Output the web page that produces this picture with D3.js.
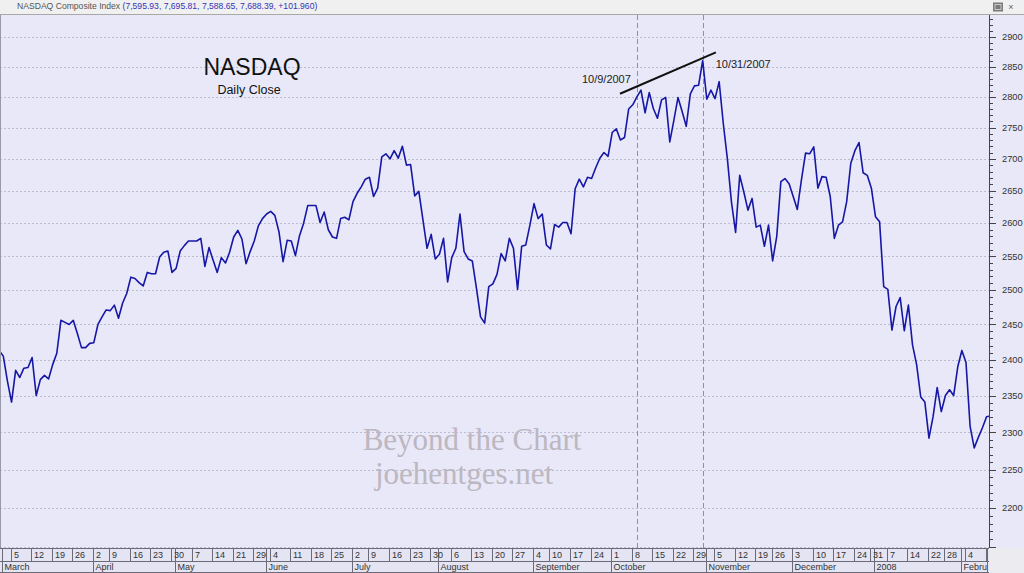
<!DOCTYPE html>
<html><head><meta charset="utf-8">
<script src="https://cdn.jsdelivr.net/npm/d3@7/dist/d3.min.js"></script>
<style>body{margin:0;background:#fff}svg{display:block}</style>
</head><body>
<svg id="c" width="1024" height="573"></svg>
<script>
// ---- data ----
const startDate = "2007-02-28";
const holidays = ["2007-04-06","2007-05-28","2007-07-04","2007-09-03","2007-11-22","2007-12-25","2008-01-01","2008-01-21"];
const closes = [
2413,2405,2370,2341,
2385,2375,2388,2389,
2403,2350,2372,2378,2373,
2393,2409,2456,2453,2450,
2456,2437,2417,2417,2423,
2424,2450,2461,2471,
2470,2478,2459,2481,2495,
2519,2517,2511,2506,2526,
2524,2524,2549,2556,2558,
2526,2532,2558,2566,2573,
2573,2573,2577,2535,2563,
2544,2526,2548,2540,2556,
2579,2589,2576,2539,2557,
2573,2596,2607,2614,
2618,2612,2587,2542,2574,
2573,2551,2581,2600,2627,
2627,2627,2601,2617,2590,
2579,2577,2607,2609,2605,
2633,2646,2656,2668,
2671,2641,2654,2703,2708,
2700,2713,2701,2720,2690,
2691,2642,2649,2605,2562,
2583,2546,2553,2577,2512,
2548,2562,2614,2557,2546,
2543,2503,2461,2452,2505,
2509,2523,2554,2543,2577,
2562,2501,2565,2567,2597,
2630,2607,2614,2567,
2561,2598,2594,2601,2601,
2584,2653,2668,2656,2671,
2669,2686,2701,2710,2704,
2742,2748,2730,2734,2780,
2787,2800,2811,2774,2807,
2781,2765,2795,2799,2727,
2762,2799,2776,2752,2805,
2818,2819,2860,2796,2811,
2797,2825,2757,2700,2632,
2586,2674,2648,2620,2638,
2594,2597,2565,2597,
2543,2580,2664,2669,2661,
2641,2621,2667,2709,2708,
2719,2654,2672,2671,2641,
2577,2597,2602,2633,2693,
2713,2726,2678,2674,
2654,
2610,2602,2505,
2501,2442,2476,2489,2441,
2478,2421,2393,2348,2341,
2292,2321,2361,2328,
2350,2358,2350,2390,2413,
2396,2308,2279,2293,2306,
2321,2322
];
const yTicks = [2200,2250,2300,2350,2400,2450,2500,2550,2600,2650,2700,2750,2800,2850,2900];
const gridLevels = [2150].concat(yTicks);
const monthNames = ["January","February","March","April","May","June","July","August","September","October","November","December"];
const markedDates = ["2007-10-09","2007-10-31"];
const markedLabels = ["10/9/2007","10/31/2007"];
const trendLine = [[150.9, 2805],[174.2, 2874]];
const headerName = "NASDAQ Composite Index";
const headerValues = "(7,595.93, 7,695.81, 7,588.65, 7,688.39, +101.960)";

// ---- trading days ----
const fmt = d3.utcFormat("%Y-%m-%d");
const dates = [];
{
  let d = new Date(startDate + "T00:00:00Z");
  while (dates.length < closes.length) {
    const dow = d.getUTCDay();
    if (dow !== 0 && dow !== 6 && !holidays.includes(fmt(d))) dates.push(new Date(d));
    d = d3.utcDay.offset(d, 1);
  }
}
const data = closes.map((v, i) => ({i, date: dates[i], v}));

// ---- layout ----
const W = 1024, H = 573;
const plotL = 0, plotR = 989, plotT = 15, plotB = 548;
const row1B = 561, row2B = 573;

const x = d3.scaleLinear().domain([0, closes.length - 1]).range([-0.8, -0.8 + 4.114 * (closes.length - 1)]);
const y = d3.scaleLog().domain([2200, 2900]).range([508, 37]);

const svg = d3.select("#c");
const bg = "#e8e8f8";
svg.append("rect").attr("width", W).attr("height", H).attr("fill", bg);

// header
svg.append("rect").attr("x",0).attr("y",0).attr("width",W).attr("height",14).attr("fill","#f0f0f0");
svg.append("line").attr("x1",0).attr("x2",W).attr("y1",14.5).attr("y2",14.5).attr("stroke","#a8a8a8");
const ht = svg.append("text").attr("x",17).attr("y",9).attr("font-family","Liberation Sans, Arial, sans-serif").attr("font-size",8.6);
ht.append("tspan").attr("fill","#555").text(headerName + " ");
ht.append("tspan").attr("fill","#3434b8").text(headerValues);
svg.append("rect").attr("x",993).attr("y",2.5).attr("width",10).attr("height",9).attr("fill","#7a7a7a");
svg.append("rect").attr("x",995).attr("y",4.5).attr("width",6).attr("height",5).attr("fill","none").attr("stroke","#ddd").attr("stroke-width",0.8);
svg.append("text").attr("x",1011).attr("y",10).attr("font-size",9).attr("fill","#666").attr("text-anchor","middle").attr("font-family","Liberation Sans, Arial").text("×");

// clip
svg.append("clipPath").attr("id","pc").append("rect").attr("x",plotL).attr("y",plotT).attr("width",plotR-plotL).attr("height",plotB-plotT);
const plot = svg.append("g").attr("clip-path","url(#pc)");

// grid
plot.selectAll("line.grid").data(gridLevels).join("line").attr("class","grid")
  .attr("x1",plotL).attr("x2",plotR).attr("y1",d=>Math.round(y(d))+0.5).attr("y2",d=>Math.round(y(d))+0.5)
  .attr("stroke","#bdbdd2").attr("stroke-width",1).attr("stroke-dasharray","2,2");

// marked verticals
const markIdx = markedDates.map(s => data.findIndex(d => fmt(d.date) === s));
plot.selectAll("line.mark").data(markIdx).join("line").attr("class","mark")
  .attr("x1",d=>Math.round(x(d))+0.5).attr("x2",d=>Math.round(x(d))+0.5).attr("y1",plotT).attr("y2",plotB)
  .attr("stroke","#8e8e9e").attr("stroke-width",1).attr("stroke-dasharray","5,3");

// watermark
const wm = svg.append("g").attr("font-family","Liberation Serif, Times New Roman, serif").attr("fill","#bcb7c0").attr("text-anchor","middle");
wm.append("text").attr("x",472).attr("y",450).attr("font-size",31).text("Beyond the Chart");
wm.append("text").attr("x",464).attr("y",484).attr("font-size",31).text("joehentges.net");

// line
plot.append("path").datum(data)
  .attr("d", d3.line().x(d=>x(d.i)).y(d=>y(d.v)))
  .attr("fill","none").attr("stroke","#1717a6").attr("stroke-width",1.6).attr("stroke-linejoin","round");

// trend line
plot.append("line").attr("x1",x(trendLine[0][0])).attr("y1",y(trendLine[0][1]))
  .attr("x2",x(trendLine[1][0])).attr("y2",y(trendLine[1][1]))
  .attr("stroke","#111").attr("stroke-width",2);

// annotations
const af = "Liberation Sans, Arial, sans-serif";
svg.append("text").attr("x",x(markIdx[0])-6).attr("y",y(closes[markIdx[0]])-14)
  .attr("text-anchor","end").attr("font-family",af).attr("font-size",11).attr("fill","#222").text(markedLabels[0]);
svg.append("text").attr("x",x(markIdx[1])+13).attr("y",y(closes[markIdx[1]])+7.5)
  .attr("font-family",af).attr("font-size",11).attr("fill","#222").text(markedLabels[1]);

// title
svg.append("text").attr("x",252).attr("y",75).attr("text-anchor","middle").attr("font-family",af).attr("font-size",23).attr("fill","#111").text("NASDAQ");
svg.append("text").attr("x",249).attr("y",94).attr("text-anchor","middle").attr("font-family",af).attr("font-size",12.5).attr("fill","#111").text("Daily Close");

// left border
svg.append("line").attr("x1",0.5).attr("x2",0.5).attr("y1",plotT).attr("y2",H).attr("stroke","#9a9aa8");

// right axis
const ra = svg.append("g");
ra.append("line").attr("x1",plotR+0.5).attr("x2",plotR+0.5).attr("y1",plotT).attr("y2",plotB).attr("stroke","#444");
const minor = d3.range(2150, 2960, 10).filter(v => y(v) >= plotT && y(v) <= plotB);
ra.selectAll("line.mn").data(minor).join("line").attr("class","mn")
  .attr("x1",plotR).attr("x2",d => (d % 50 === 0) ? plotR+7 : plotR+4)
  .attr("y1",d=>Math.round(y(d))+0.5).attr("y2",d=>Math.round(y(d))+0.5).attr("stroke","#444");
ra.selectAll("text").data(yTicks).join("text")
  .attr("x",1002).attr("y",d=>y(d)+3.3).attr("font-family",af).attr("font-size",9.3).attr("fill","#333").text(d=>d);

// x axis rows
svg.append("rect").attr("x",0).attr("y",plotB).attr("width",plotR).attr("height",H-plotB).attr("fill","#e4e4f2");
svg.append("rect").attr("x",plotR).attr("y",plotB).attr("width",W-plotR).attr("height",H-plotB).attr("fill","#ececf0");
const ax = svg.append("g");
[plotB+0.5, row1B+0.5, row2B-0.5].forEach(yy => ax.append("line").attr("x1",0).attr("x2",plotR).attr("y1",yy).attr("y2",yy).attr("stroke","#6a6a78"));

const weekTicks = data.filter((d,k) => k>0 && (d.date.getUTCDay() <= data[k-1].date.getUTCDay() || (d.date - data[k-1].date) > 3*864e5));
const monthTicks = data.filter((d,k) => k>0 && d.date.getUTCMonth() !== data[k-1].date.getUTCMonth());
const tx = d => Math.round(x(d.i) - 1) + 0.5;

svg.append("clipPath").attr("id","axc").append("rect").attr("x",0).attr("y",plotB).attr("width",plotR-2).attr("height",H-plotB);
const axg = ax.append("g").attr("clip-path","url(#axc)");
axg.selectAll("line.wk").data(weekTicks.concat(monthTicks)).join("line").attr("class","wk")
  .attr("x1",tx).attr("x2",tx).attr("y1",plotB).attr("y2",row1B).attr("stroke","#6a6a78");
axg.selectAll("text.wk").data(weekTicks).join("text").attr("class","wk")
  .attr("x",d=>tx(d)+2.5).attr("y",row1B-3).attr("font-family",af).attr("font-size",9).attr("fill","#333")
  .text(d=>d.date.getUTCDate());
axg.selectAll("line.mo").data(monthTicks).join("line").attr("class","mo")
  .attr("x1",tx).attr("x2",tx).attr("y1",row1B).attr("y2",row2B).attr("stroke","#6a6a78");
axg.selectAll("text.mo").data(monthTicks).join("text").attr("class","mo")
  .attr("x",d=>tx(d)+2).attr("y",row2B-3).attr("font-family",af).attr("font-size",9).attr("fill","#333")
  .text(d=>d.date.getUTCMonth()===0 ? String(d.date.getUTCFullYear()) : monthNames[d.date.getUTCMonth()]);
ax.append("line").attr("x1",plotR-1.5).attr("x2",plotR-1.5).attr("y1",plotB).attr("y2",H).attr("stroke","#6a6a78");
</script>
</body></html>
